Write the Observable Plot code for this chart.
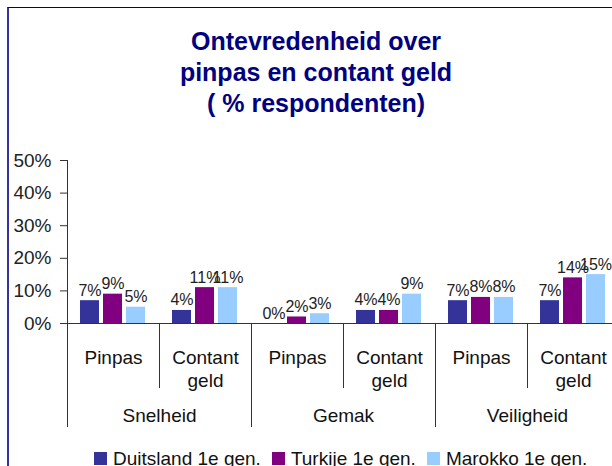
<!DOCTYPE html>
<html>
<head>
<meta charset="utf-8">
<script src="https://cdn.jsdelivr.net/npm/d3@7"></script>
<script src="https://cdn.jsdelivr.net/npm/@observablehq/plot@0.6"></script>
<style>
  html, body { margin: 0; padding: 0; background: #fff; }
  body { width: 612px; height: 466px; overflow: hidden; position: relative; font-family: "Liberation Sans", Arial, sans-serif; }
  #frame { position: absolute; left: 7px; top: 7px; width: 700px; height: 600px; border-left: 2px solid #333399; border-top: 1px solid #000080; box-sizing: border-box; pointer-events: none; }
  #title { position: relative; height: 120px; box-sizing: border-box; padding-top: 26px; width: 632px; text-align: center; font-weight: bold; font-size: 25px; line-height: 31px; color: #000080; }
  #chart { position: relative; width: 640px; }
  #legend { position: relative; padding-left: 94px; font-size: 19px; line-height: 22px; color: #111; white-space: nowrap; }
  #legend .item { display: inline-block; margin-right: 11px; }
  #legend .sw { display: inline-block; width: 13px; height: 13px; margin-right: 6px; vertical-align: baseline; }
</style>
</head>
<body>
<div id="frame"></div>
<div id="title">Ontevredenheid over<br>pinpas en contant geld<br>( % respondenten)</div>
<div id="chart"></div>
<div id="legend"></div>
<script>
const groups = ["Snelheid", "Gemak", "Veiligheid"];
const subs = ["Pinpas", "Contant geld"];
const series = ["Duitsland 1e gen.", "Turkije 1e gen.", "Marokko 1e gen."];
const duitsland = [7, 4, 0, 4, 7, 7];
const turkije = [9, 11, 2, 4, 8, 14];
const marokko = [5, 11, 3, 9, 8, 15];
const yTicks = [0, 10, 20, 30, 40, 50];
const colors = ["#333399", "#800080", "#99CCFF"];

const values = [duitsland, turkije, marokko];
const facets = [];
groups.forEach(g => subs.forEach(s => facets.push({key: g + "|" + s, group: g, sub: s})));
const rows = [];
facets.forEach((f, i) => series.forEach((s, j) => rows.push({key: f.key, series: s, value: values[j][i]})));

const W = 640, H = 328, mL = 67, mR = 21, mT = 40, mB = 125;
const facetW = (W - mL - mR) / facets.length;
const yMax = d3.max(yTicks);
const lineColor = "#333";

const plot = Plot.plot({
  width: W, height: H,
  marginLeft: mL, marginRight: mR, marginTop: mT, marginBottom: mB,
  style: {fontFamily: "Liberation Sans, Arial, sans-serif", maxWidth: "none", overflow: "visible", background: "transparent"},
  fx: {domain: facets.map(f => f.key), padding: 0, axis: null},
  x: {domain: series, paddingInner: 0.17, paddingOuter: 0.585, axis: null},
  y: {domain: [0, yMax], axis: null},
  color: {domain: series, range: colors},
  marks: [
    Plot.barY(rows, {fx: "key", x: "series", y: "value", fill: "series"}),
    Plot.ruleY([0], {stroke: lineColor}),
    Plot.ruleX(facets.filter(f => f.sub === subs[0]), {
      fx: "key", x: null, y1: d => d.key === facets[0].key ? yMax : 0, y2: 0,
      insetBottom: -104, dx: -facetW / 2, stroke: lineColor
    }),
    Plot.ruleX(facets.filter(f => f.sub === subs[1]), {
      fx: "key", x: null, y1: 0, y2: 0,
      insetBottom: -65, dx: -facetW / 2, stroke: lineColor
    }),
    Plot.axisY(yTicks, {tickSize: 7, tickPadding: 9, tickFormat: d => d + "%", fontSize: 19, color: "#222", stroke: lineColor, label: null}),
    Plot.text(rows, {fx: "key", x: "series", y: "value", text: d => d.value + "%", lineAnchor: "bottom", dy: -5, fontSize: 16, fill: "#222"}),
    Plot.text(facets, {fx: "key", text: d => d.sub.replace(" ", "\n"), frameAnchor: "bottom", lineAnchor: "top", dy: 23, fontSize: 19, lineHeight: 1.26, fill: "#111"}),
    Plot.text(facets.filter(f => f.sub === subs[0]), {fx: "key", text: "group", frameAnchor: "bottom-right", textAnchor: "middle", lineAnchor: "top", dy: 85, fontSize: 19, fill: "#111"})
  ]
});
document.getElementById("chart").appendChild(plot);

const color = plot.scale("color");
const legend = d3.select("#legend");
series.forEach((s, i) => {
  const item = legend.append("span").attr("class", "item");
  item.append("span").attr("class", "sw").style("background", color.range[i]);
  item.append("span").text(s);
});
</script>
</body>
</html>
